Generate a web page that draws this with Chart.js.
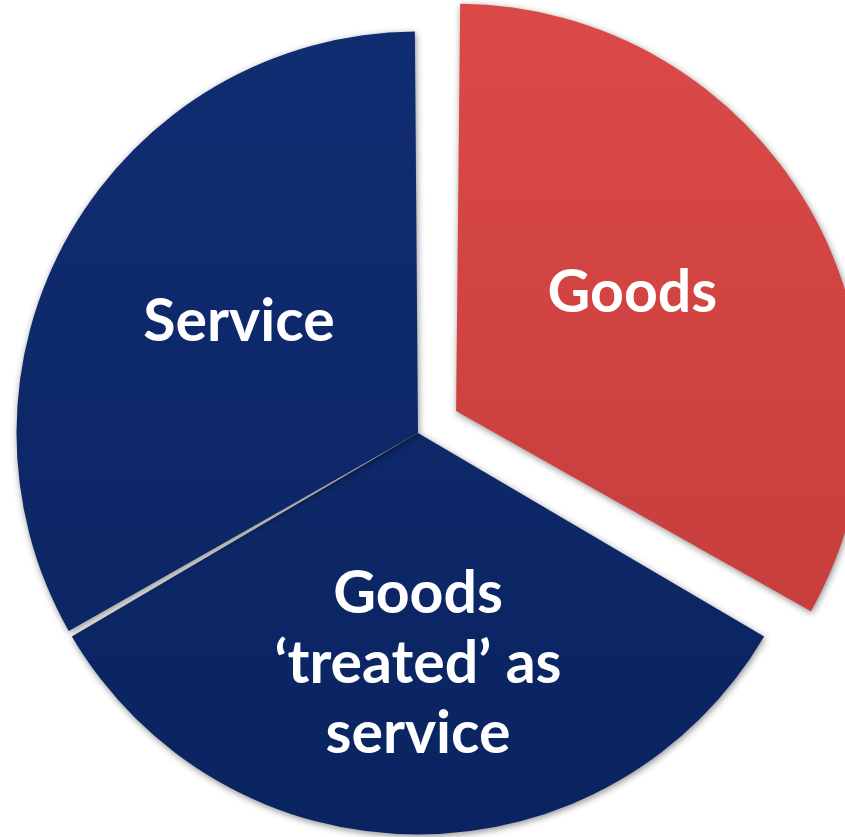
<!DOCTYPE html>
<html>
<head>
<meta charset="utf-8">
<script src="https://cdn.jsdelivr.net/npm/chart.js@4"></script>
<style>
  html, body { margin: 0; padding: 0; background: #ffffff; overflow: hidden; }
  #wrap { width: 845px; height: 837px; overflow: hidden; position: relative; }
  #grafica { position: absolute; left: -30px; top: 0; }
</style>
</head>
<body>
<div id="wrap"><canvas id="grafica"></canvas></div>
<script>
// data: three equal slices
const categories = ['Goods', 'Goods ‘treated’ as service', 'Service'];
const shares = [33.3, 33.3, 33.3];
const labelLines = [['Goods'], ['Goods', '‘treated’ as', 'service'], ['Service']];
const explode = [176, 0, 0];

const topColors = ['#dc4a48', '#112d72', '#112d72'];
const bottomColors = ['#bf3a38', '#0a2360', '#0a2360'];
const labelRadius = [0.52, 0.57, 0.53];
const labelTurn = [-4.6, 0, 2.4]; // degrees

function sliceFill(c) {
    const chart = c.chart;
    const area = chart.chartArea;
    const i = c.dataIndex;
    if (!area) return topColors[i];
    const g = chart.ctx.createLinearGradient(0, 0, 0, 866);
    g.addColorStop(0, topColors[i]);
    g.addColorStop(1, bottomColors[i]);
    return g;
}

// how far Chart.js actually moves an exploded arc
function shiftOf(arc) {
    const off = (arc.options.offset || 0) / 4;
    const fix = 1 - Math.sin(Math.min(Math.PI, arc.circumference || 0));
    return off + off * fix;
}

// soft drop shadow under the slices
const sombra = {
    id: 'sombra',
    beforeDatasetDraw(chart) {
        const ctx = chart.ctx;
        ctx.save();
        ctx.shadowColor = 'rgba(0, 0, 0, 0.45)';
        ctx.shadowBlur = 7;
        ctx.shadowOffsetX = 1;
        ctx.shadowOffsetY = 2;
    },
    afterDatasetDraw(chart) {
        chart.ctx.restore();
    }
};

// white labels inside each slice
const sliceLabels = {
    id: 'sliceLabels',
    afterDatasetsDraw(chart) {
        const ctx = chart.ctx;
        const meta = chart.getDatasetMeta(0);
        ctx.save();
        ctx.fillStyle = '#ffffff';
        ctx.font = 'bold 59px Lato';
        ctx.textAlign = 'center';
        ctx.textBaseline = 'alphabetic';
        meta.data.forEach((arc, i) => {
            const p = arc.getProps(['x', 'y', 'startAngle', 'endAngle', 'outerRadius'], true);
            const mid = (p.startAngle + p.endAngle) / 2;
            const s = shiftOf(arc);
            const ex = p.x + Math.cos(mid) * s;
            const ey = p.y + Math.sin(mid) * s;
            const a = mid + labelTurn[i] * Math.PI / 180;
            const r = p.outerRadius * labelRadius[i];
            const cx = ex + Math.cos(a) * r;
            const cy = ey + Math.sin(a) * r;
            const lines = labelLines[i];
            const lh = 70;
            const y0 = cy - (lines.length - 1) * lh / 2 + 22;
            lines.forEach((t, k) => ctx.fillText(t, cx, y0 + k * lh));
        });
        ctx.restore();
    }
};

const config = {
    type: 'pie',
    data: {
        labels: categories,
        datasets: [{
            data: shares,
            backgroundColor: sliceFill,
            borderWidth: 0,
            offset: explode,
            spacing: 3,
            radius: 400,
            clip: false
        }]
    },
    options: {
        responsive: false,
        animation: false,
        events: [],
        layout: { padding: { left: 0, right: 4, top: 0, bottom: 34 } },
        plugins: {
            legend: { display: false },
            tooltip: { enabled: false }
        }
    },
    plugins: [sombra, sliceLabels]
};

const canvas = document.getElementById('grafica');
canvas.width = 900;
canvas.height = 900;
new Chart(canvas, config);
</script>
</body>
</html>
